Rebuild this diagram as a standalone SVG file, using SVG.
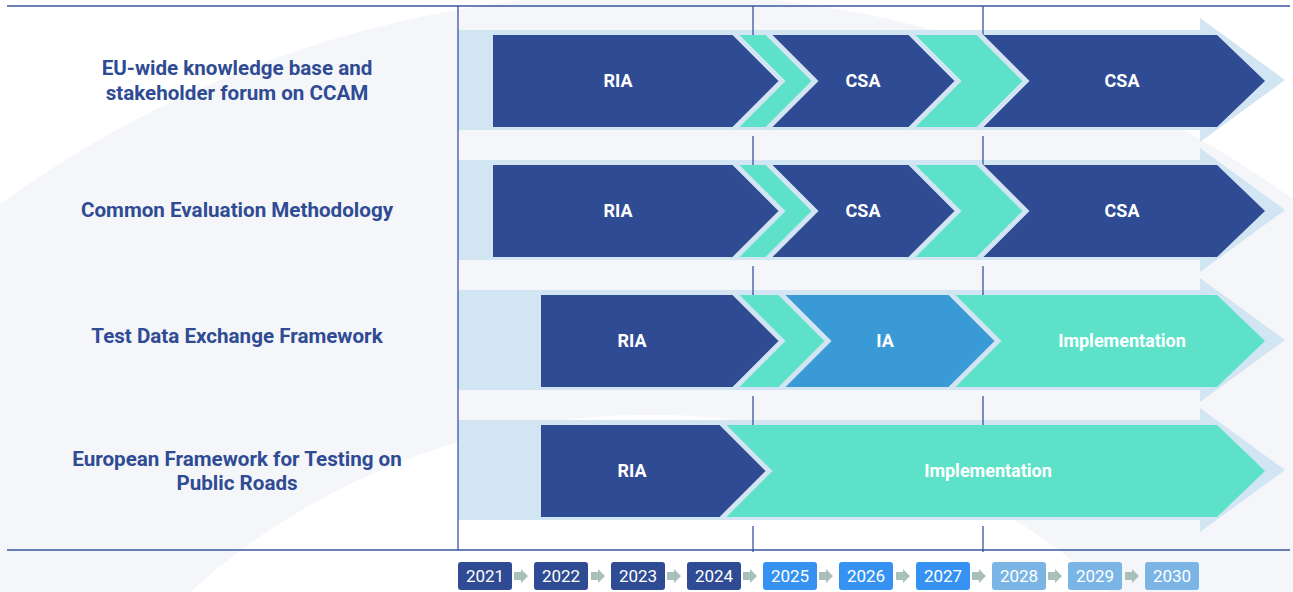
<svg xmlns="http://www.w3.org/2000/svg" width="1293" height="592" viewBox="0 0 1293 592">
<style>
.lbl{font-family:Roboto,"Liberation Sans",sans-serif;font-weight:700;font-size:20.6px;fill:#2f4b93;text-anchor:middle}
.bt{font-family:Roboto,"Liberation Sans",sans-serif;font-weight:700;font-size:18px;fill:#ffffff;text-anchor:middle}
.yt{font-family:Roboto,"Liberation Sans",sans-serif;font-weight:400;font-size:17px;fill:#ffffff;text-anchor:middle}
.band{fill:#d2e5f2}
.sep{stroke:#d2e5f2;stroke-width:5;fill:none;stroke-linejoin:miter;stroke-miterlimit:10}
.dark{fill:#2f4b93}
.teal{fill:#5de2c9}
.ia{fill:#3a9ad5}
.axis{stroke:#3a55a0;stroke-width:1.3;fill:none}
.y1{fill:#2f4b93}
.y2{fill:#3592f2}
.y3{fill:#7ab5e6}
.arr{fill:#a9bfba}
</style>
<rect width="1293" height="592" fill="#ffffff"/>
<g id="background">
<path fill="#f5f6fa" fill-rule="evenodd" d="M-457,1100 A1107,1107 0 1 1 1757,1100 A1107,1107 0 1 1 -457,1100 Z M-35,1100 A685,685 0 1 0 1335,1100 A685,685 0 1 0 -35,1100 Z"/>
</g>
<g id="bands">
<path class="band" d="M458,30 H1200 V18 L1285,80 L1200,142 V130 H458 Z"/>
<path class="band" d="M458,160 H1200 V148 L1285,210 L1200,272 V260 H458 Z"/>
<path class="band" d="M458,290 H1200 V278 L1285,340 L1200,402 V390 H458 Z"/>
<path class="band" d="M458,420 H1200 V408 L1285,470 L1200,532 V520 H458 Z"/>
</g>
<g id="connectors">
<line class="axis" x1="7" y1="6" x2="1290" y2="6"/>
<line class="axis" x1="7" y1="550" x2="1290" y2="550"/>
<line class="axis" x1="458" y1="6" x2="458" y2="550"/>
<line class="axis" x1="753" y1="6" x2="753" y2="552" stroke-dasharray="110 20"/>
<line class="axis" x1="983" y1="6" x2="983" y2="552" stroke-dasharray="110 20"/>
</g>
<g id="row1">
<text class="lbl" x="237" y="75">EU-wide knowledge base and</text>
<text class="lbl" x="237" y="100">stakeholder forum on CCAM</text>
<path class="dark" d="M493,35 H734 L782,81 L734,127 H493 Z"/>
<path class="teal" d="M734,35 H767 L815,81 L767,127 H734 L782,81 Z"/>
<path class="dark" d="M767,35 H910 L958,81 L910,127 H767 L815,81 Z"/>
<path class="teal" d="M910,35 H978 L1026,81 L978,127 H910 L958,81 Z"/>
<path class="dark" d="M978,35 H1217 L1265,81 L1217,127 H978 L1026,81 Z"/>
<path class="sep" d="M734,33 L782,81 L734,129 M767,33 L815,81 L767,129 M910,33 L958,81 L910,129 M978,33 L1026,81 L978,129"/>
<text class="bt" x="618" y="87">RIA</text>
<text class="bt" x="863" y="87">CSA</text>
<text class="bt" x="1122" y="87">CSA</text>
</g>
<g id="row2">
<text class="lbl" x="237" y="217">Common Evaluation Methodology</text>
<path class="dark" d="M493,165 H734 L782,211 L734,257 H493 Z"/>
<path class="teal" d="M734,165 H767 L815,211 L767,257 H734 L782,211 Z"/>
<path class="dark" d="M767,165 H910 L958,211 L910,257 H767 L815,211 Z"/>
<path class="teal" d="M910,165 H978 L1026,211 L978,257 H910 L958,211 Z"/>
<path class="dark" d="M978,165 H1217 L1265,211 L1217,257 H978 L1026,211 Z"/>
<path class="sep" d="M734,163 L782,211 L734,259 M767,163 L815,211 L767,259 M910,163 L958,211 L910,259 M978,163 L1026,211 L978,259"/>
<text class="bt" x="618" y="217">RIA</text>
<text class="bt" x="863" y="217">CSA</text>
<text class="bt" x="1122" y="217">CSA</text>
</g>
<g id="row3">
<text class="lbl" x="237" y="343">Test Data Exchange Framework</text>
<path class="dark" d="M541,295 H734 L782,341 L734,387 H541 Z"/>
<path class="teal" d="M734,295 H780 L828,341 L780,387 H734 L782,341 Z"/>
<path class="ia" d="M780,295 H950 L998,341 L950,387 H780 L828,341 Z"/>
<path class="teal" d="M950,295 H1217 L1265,341 L1217,387 H950 L998,341 Z"/>
<path class="sep" d="M734,293 L782,341 L734,389 M780,293 L828,341 L780,389 M950,293 L998,341 L950,389"/>
<text class="bt" x="632" y="347">RIA</text>
<text class="bt" x="885" y="347">IA</text>
<text class="bt" x="1122" y="347">Implementation</text>
</g>
<g id="row4">
<text class="lbl" x="237" y="466">European Framework for Testing on</text>
<text class="lbl" x="237" y="490">Public Roads</text>
<path class="dark" d="M541,425 H721 L769,471 L721,517 H541 Z"/>
<path class="teal" d="M721,425 H1217 L1265,471 L1217,517 H721 L769,471 Z"/>
<path class="sep" d="M721,423 L769,471 L721,519"/>
<text class="bt" x="632" y="477">RIA</text>
<text class="bt" x="988" y="477">Implementation</text>
</g>
<g id="timeline">
<rect class="y1" x="458" y="562" width="54" height="28" rx="3"/>
<rect class="y1" x="534" y="562" width="54" height="28" rx="3"/>
<rect class="y1" x="611" y="562" width="54" height="28" rx="3"/>
<rect class="y1" x="687" y="562" width="54" height="28" rx="3"/>
<rect class="y2" x="763" y="562" width="54" height="28" rx="3"/>
<rect class="y2" x="839" y="562" width="54" height="28" rx="3"/>
<rect class="y2" x="916" y="562" width="54" height="28" rx="3"/>
<rect class="y3" x="992" y="562" width="54" height="28" rx="3"/>
<rect class="y3" x="1068" y="562" width="54" height="28" rx="3"/>
<rect class="y3" x="1145" y="562" width="54" height="28" rx="3"/>
<text class="yt" x="485" y="582">2021</text>
<text class="yt" x="561" y="582">2022</text>
<text class="yt" x="638" y="582">2023</text>
<text class="yt" x="714" y="582">2024</text>
<text class="yt" x="790" y="582">2025</text>
<text class="yt" x="866" y="582">2026</text>
<text class="yt" x="943" y="582">2027</text>
<text class="yt" x="1019" y="582">2028</text>
<text class="yt" x="1095" y="582">2029</text>
<text class="yt" x="1172" y="582">2030</text>
<path class="arr" d="M514,572 H521 V569 L528,576 L521,583 V580 H514 Z"/>
<path class="arr" d="M591,572 H598 V569 L605,576 L598,583 V580 H591 Z"/>
<path class="arr" d="M667,572 H674 V569 L681,576 L674,583 V580 H667 Z"/>
<path class="arr" d="M743,572 H750 V569 L757,576 L750,583 V580 H743 Z"/>
<path class="arr" d="M819,572 H826 V569 L833,576 L826,583 V580 H819 Z"/>
<path class="arr" d="M896,572 H903 V569 L910,576 L903,583 V580 H896 Z"/>
<path class="arr" d="M972,572 H979 V569 L986,576 L979,583 V580 H972 Z"/>
<path class="arr" d="M1048,572 H1055 V569 L1062,576 L1055,583 V580 H1048 Z"/>
<path class="arr" d="M1125,572 H1132 V569 L1139,576 L1132,583 V580 H1125 Z"/>
</g>
</svg>
